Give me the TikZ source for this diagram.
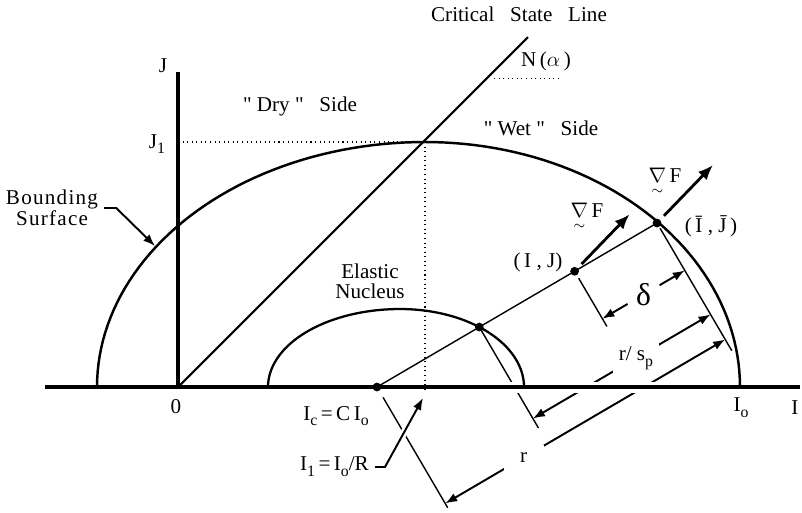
\documentclass[tikz,border=0pt]{standalone}
\usepackage{fontspec}
\usepackage{amsmath}
\setmainfont{Liberation Serif}
\usetikzlibrary{arrows.meta, calc, positioning}
\newcommand{\lsub}[1]{\raisebox{-0.6ex}{\fontsize{9}{10}\selectfont #1}}
\newcommand{\gradF}{$\underset{\sim}{\nabla}$\,F}
\newcommand{\qq}{\textquotedbl}

\begin{document}
\begin{tikzpicture}[x=0.02cm, y=-0.02cm, font=\fontsize{12}{14}\selectfont,
    >={Latex[length=2.4mm,width=1.8mm]},
    axis/.style={line width=1.8pt},
    surf/.style={line width=1.4pt},
    thin line/.style={line width=0.8pt},
    guide/.style={line width=0.6pt, dotted},
    dim/.style={line width=1.1pt, <->},
    lead/.style={line width=1.1pt, ->},
    grad/.style={line width=1.6pt, -{Latex[length=3mm,width=2.4mm]}, shorten <=3pt},
    dot/.style={circle, fill, inner sep=0pt, minimum size=5pt},
    gap/.style={fill=white, inner sep=0pt}]

\useasboundingbox (0,0) rectangle (802,512);

\coordinate (O) at (178,387);
\coordinate (Jtop) at (178,72);
\coordinate (Ibeg) at (45,387);
\coordinate (Iend) at (800,387);
\coordinate (top) at (425,142);
\coordinate (I1) at (425,387);
\coordinate (cslend) at (528,37);
\coordinate (bsTip) at (155,246);

\node[dot] (Ic) at (377,387) {};
\node[dot] (Ib) at (657,223) {};
\node[dot] (Pn) at ($(Ic)!0.3655!(Ib)$) {};
\node[dot] (Pij) at ($(Ic)!0.7057!(Ib)$) {};

\draw[surf] plot[domain=180:90, samples=50] ({425+328*cos(\x)}, {387-245*sin(\x)})
    -- plot[domain=90:0, samples=50] ({425+315*cos(\x)}, {387-245*sin(\x)});
\draw[surf, line width=1.3pt] plot[domain=180:90, samples=40] ({400+132*cos(\x)}, {387-78*sin(\x)})
    -- plot[domain=90:0, samples=40] ({400+124*cos(\x)}, {387-78*sin(\x)});

\draw[line width=1.2pt] (O) -- (cslend);
\draw[guide] (O |- top) -- (top);
\draw[guide] (top) -- ($(I1)+(0,5)$);

\draw[thin line] (Ic.center) -- (Ib.center);
\draw[thin line] ($(Ic)!0.24cm!-90:(Ib)$) -- ($(Ic)!2.8cm!-90:(Ib)$);
\draw[thin line] (Pn.center) -- ($(Pn)!2.34cm!-90:(Ib)$);
\draw[thin line] ($(Pij)!0.16cm!-90:(Ib)$) -- ($(Pij)!1.28cm!-90:(Ib)$);
\draw[thin line] ($(Ib)!0.12cm!90:(Ic)$) -- ($(Ib)!2.96cm!90:(Ic)$);

\draw[dim] ($(Pij)!1.1cm!-90:(Ib)$) -- node[gap, circle, minimum size=0.74cm] (dl) {\fontsize{18}{20}\selectfont δ} ($(Ib)!1.1cm!90:(Ic)$);
\draw[dim] ($(Pn)!2.12cm!-90:(Ib)$) -- node[gap, pos=0.58, minimum width=0.92cm, minimum height=0.6cm] (rsp) {r/\ s\lsub{p}} ($(Ib)!2.12cm!90:(Ic)$);
\draw[dim] ($(Ic)!2.7cm!-90:(Ib)$) -- node[gap, pos=0.28, minimum width=0.8cm, minimum height=0.5cm] (rl) {r} ($(Ib)!2.7cm!90:(Ic)$);

\draw[white, line width=0.22cm] (500,387) -- (519,387) (570,387) -- (662,387);
\draw[axis] (Ibeg) -- (Iend);
\draw[axis, line width=2pt] (O) -- (Jtop);

\draw[grad] (Pij) -- ++(55,-57);
\draw[grad] (Ib) -- ++(56,-58);

\node (csl) at (519,14) {Critical\ \ \ State\ \ \ Line};
\node (nal) at (546,61) {N\,($\alpha$\,)};
\draw[guide] ([xshift=-0.42cm, yshift=-0.04cm]nal.south west) -- ([xshift=-0.34cm, yshift=-0.04cm]nal.south east);
\node (wet) at (541,128) {\qq\ Wet\ \qq\ \ \ Side};
\node (dry) at (300,106) {\qq\ Dry\ \qq\ \ \ Side};
\node (jlab) at (163,66) {J};
\node (j1) at (157,144) {J\lsub{1}};
\node[align=center, font=\fontsize{12}{12}\addfontfeatures{LetterSpace=6}\selectfont] (bs) at (52,208) {Bounding\\Surface};
\node[align=center] (en) at (370,281) {Elastic\\[-2.5pt]Nucleus};
\node (zero) at (176,407) {0};
\node (ij) at (538,262) {(\,I\ ,\ J)};
\node (ibj) at (711,226) {(\,\={I}\ ,\ \={J}\,)};
\node[anchor=base] (gf1) at (587,217) {\gradF};
\node[anchor=base] (gf2) at (665,182) {\gradF};
\node (io) at (741,408) {I\lsub{o}};
\node (ilab) at (795,408) {I};
\node (ic) at (336,416) {I\lsub{c}\,=\,C\,I\lsub{o}};
\node[anchor=east] (i1lab) at (375,467) {I\lsub{1}\,=\,I\lsub{o}/R};

\draw[lead] (bs.east) -- ++(12,0) -- (bsTip);
\draw[lead, preaction={draw=white, line width=4pt, -}] (i1lab.east) -- ++(10,0) -- ($(I1)+(-2,11)$);
\end{tikzpicture}
\end{document}
